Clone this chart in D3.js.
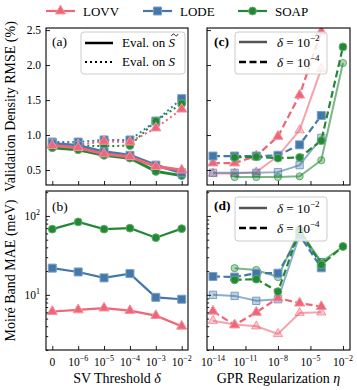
<!DOCTYPE html>
<html>
<head>
<meta charset="utf-8">
<script src="https://cdn.jsdelivr.net/npm/d3@7"></script>
<style>
  body { margin: 0; background: #fff; }
  svg { display: block; font-family: "Liberation Serif", "Times New Roman", serif; }
</style>
</head>
<body>
<svg id="chart" width="357" height="390"></svg>
<script>
// ---- data ----
const models = ["LOVV", "LODE", "SOAP"];
const svTickExp = [null, -6, -5, -4, -3, -2];   // SV threshold categories (null = 0)
const svIndex = [0, 1, 2, 3, 4, 5];

// (a) validation density RMSE (%)
const rmseTildeLOVV = [0.85, 0.82, 0.73, 0.69, 0.55, 0.50];
const rmseTildeLODE = [0.88, 0.85, 0.76, 0.71, 0.57, 0.46];
const rmseTildeSOAP = [0.82, 0.79, 0.71, 0.67, 0.48, 0.42];
const rmseFullLOVV = [0.87, 0.86, 0.91, 0.90, 1.10, 1.37];
const rmseFullLODE = [0.90, 0.90, 0.93, 0.93, 1.20, 1.52];
const rmseFullSOAP = [0.86, 0.85, 0.84, 0.85, 1.20, 1.45];

// (b) moire band MAE (meV)
const maeLOVV = [6.15, 6.45, 6.8, 6.3, 5.45, 4.0];
const maeLODE = [21.8, 19.5, 16.4, 18.6, 9.3, 8.8];
const maeSOAP = [68, 84, 68, 70, 53, 69];

// GPR regularization eta (log10)
const etaTickExp = [-14, -11, -8, -5, -2];
const etaLO = [-14, -12, -10, -8, -6, -4];
const etaSOAP = [-12, -10, -8, -6, -4, -2];

// (c) RMSE vs eta, delta = 1e-2 (light) and 1e-4 (dashed)
const etaRmseLOVV2 = [0.45, 0.45, 0.47, 0.70, 1.07, 1.95];
const etaRmseLOVV4 = [0.60, 0.60, 0.70, 0.98, 1.57, 2.48];
const etaRmseLODE2 = [0.46, 0.46, 0.46, 0.47, 0.57, 0.96];
const etaRmseLODE4 = [0.70, 0.70, 0.70, 0.71, 0.86, 1.28];
const etaRmseSOAP2 = [0.40, 0.40, 0.40, 0.41, 0.64, 2.03];
const etaRmseSOAP4 = [0.68, 0.69, 0.67, 0.68, 0.92, 2.26];

// (d) MAE vs eta
const etaMaeLOVV2 = [4.7, 4.2, 4.0, 3.2, 5.9, 6.0];
const etaMaeLOVV4 = [6.2, 4.15, 6.0, 9.1, 7.85, 7.1];
const etaMaeLODE2 = [10.0, 9.7, 8.4, 8.8, 57, 26];
const etaMaeLODE4 = [17.1, 16.8, 18.8, 18.8, 57, 22];
const etaMaeSOAP2 = [21.8, 20.7, 16.8, 66, 26, 41];
const etaMaeSOAP4 = [15.5, 15.8, 11.0, 66, 24, 41];

const colors = { LOVV: "#EE6677", LODE: "#4477AA", SOAP: "#228833" };
const symbols = { LOVV: d3.symbolTriangle, LODE: d3.symbolSquare, SOAP: d3.symbolCircle };
const symSize = { LOVV: 44, LODE: 64, SOAP: 48 };

// ---- layout ----
const svg = d3.select("#chart");
const L = { x0: 46, x1: 188 }, R = { x0: 207, x1: 350 };
const T = { y0: 28, y1: 185 }, B = { y0: 191, y1: 350 };

const xSV = d3.scaleLinear().domain([-0.243, 5.243]).range([L.x0, L.x1]);
const xEta = d3.scaleLinear().domain([-14.55, -1.35]).range([R.x0, R.x1]);
const yRmse = d3.scaleLinear().domain([0.286, 2.53]).range([T.y1, T.y0]);
const yMae = d3.scaleLog().domain([2.0, 207]).range([B.y1, B.y0]);

const minorLog = [2, 3, 4, 5, 6, 7, 8, 9, 20, 30, 40, 50, 60, 70, 80, 90, 200];

function makePanel(id, X, Y) {
  svg.append("clipPath").attr("id", id)
    .append("rect").attr("x", X.x0).attr("y", Y.y0)
    .attr("width", X.x1 - X.x0).attr("height", Y.y1 - Y.y0);
  return svg.append("g").attr("clip-path", `url(#${id})`);
}

function frame(X, Y) {
  svg.append("rect").attr("x", X.x0).attr("y", Y.y0)
    .attr("width", X.x1 - X.x0).attr("height", Y.y1 - Y.y0)
    .attr("fill", "none").attr("stroke", "#000").attr("stroke-width", 1.1);
}

function ticks(axis, y0, x0, size) {
  const g = svg.append("g")
    .attr("transform", `translate(${x0},${y0})`)
    .call(axis.tickSize(size).tickFormat(""));
  g.select(".domain").remove();
  g.selectAll("line").attr("stroke", "#000").attr("stroke-width", 0.9);
  return g;
}

function powLabel(x, y, anchor, exp, base) {
  const t = svg.append("text").attr("x", x).attr("y", y)
    .attr("text-anchor", anchor).attr("font-size", 11.5).attr("fill", "#000");
  if (exp === null) { t.text(base); return t; }
  t.append("tspan").text("10");
  t.append("tspan").attr("dy", -5).attr("font-size", 8).text(exp < 0 ? "\u2212" + (-exp) : exp);
  return t;
}

function series(g, xs, ys, x, y, o) {
  const pts = xs.map((v, i) => [x(v), y(ys[i])]);
  g.append("path").attr("d", d3.line()(pts))
    .attr("fill", "none").attr("stroke", o.color)
    .attr("stroke-width", o.lw).attr("stroke-opacity", o.alpha || 1)
    .attr("stroke-dasharray", o.dash || null)
    .attr("stroke-linecap", o.cap || "butt");
  const sym = d3.symbol(symbols[o.model], o.size || symSize[o.model]);
  g.selectAll(null).data(pts).join("path")
    .attr("transform", d => `translate(${d[0]},${d[1]})`)
    .attr("d", sym)
    .attr("fill", o.color).attr("fill-opacity", o.fillAlpha == null ? 1 : o.fillAlpha)
    .attr("stroke", o.edge || d3.interpolateRgb(o.color, "#fff")(0.3))
    .attr("stroke-opacity", o.edgeAlpha || 1)
    .attr("stroke-width", 1);
}

function legendBox(x, y, w, h) {
  svg.append("rect").attr("x", x).attr("y", y).attr("width", w).attr("height", h)
    .attr("rx", 3).attr("fill", "#fff").attr("fill-opacity", 0.8)
    .attr("stroke", "#ccc").attr("stroke-width", 1);
}

function deltaEntry(x, y, exp, dash, color, lw) {
  svg.append("line").attr("x1", x).attr("x2", x + 28).attr("y1", y).attr("y2", y)
    .attr("stroke", color).attr("stroke-width", lw).attr("stroke-dasharray", dash);
  const t = svg.append("text").attr("x", x + 38).attr("y", y + 4.5).attr("font-size", 13);
  t.append("tspan").attr("font-style", "italic").text("\u03b4");
  t.append("tspan").text(" = 10");
  t.append("tspan").attr("dy", -6).attr("font-size", 9).text("\u2212" + exp);
}

// ---- panel (a) ----
const ga = makePanel("clipA", L, T);
const rmseFull = { LOVV: rmseFullLOVV, LODE: rmseFullLODE, SOAP: rmseFullSOAP };
const rmseTilde = { LOVV: rmseTildeLOVV, LODE: rmseTildeLODE, SOAP: rmseTildeSOAP };
["LODE", "SOAP", "LOVV"].forEach(m => series(ga, svIndex, rmseFull[m], xSV, yRmse,
  { model: m, color: colors[m], lw: 2, dash: "2,3" }));
["SOAP", "LODE", "LOVV"].forEach(m => series(ga, svIndex, rmseTilde[m], xSV, yRmse,
  { model: m, color: colors[m], lw: 3 }));
frame(L, T);
ticks(d3.axisBottom(xSV).tickValues(svIndex), T.y1, 0, -4);
ticks(d3.axisLeft(yRmse).tickValues([0.5, 1, 1.5, 2, 2.5]), 0, L.x0, -4);
[0.5, 1, 1.5, 2, 2.5].forEach(v => svg.append("text").attr("x", 41).attr("y", yRmse(v) + 4)
  .attr("text-anchor", "end").attr("font-size", 11.5).text(v.toFixed(1)));

legendBox(81, 32, 104, 42);
svg.append("line").attr("x1", 85).attr("x2", 113).attr("y1", 43).attr("y2", 43)
  .attr("stroke", "#000").attr("stroke-width", 2.5);
svg.append("line").attr("x1", 85).attr("x2", 113).attr("y1", 62).attr("y2", 62)
  .attr("stroke", "#000").attr("stroke-width", 2).attr("stroke-dasharray", "2,3");
let ta = svg.append("text").attr("x", 122).attr("y", 47).attr("font-size", 13);
ta.append("tspan").text("Eval. on ");
ta.append("tspan").attr("font-style", "italic").text("S");
// tilde accent over the S, drawn as a small stroke
svg.append("path").attr("d", "M171.5,36 C172.5,33.6 174,33.6 175,35 S177,36.4 178,34")
  .attr("fill", "none").attr("stroke", "#000").attr("stroke-width", 0.9);
ta = svg.append("text").attr("x", 122).attr("y", 66).attr("font-size", 13);
ta.append("tspan").text("Eval. on ");
ta.append("tspan").attr("font-style", "italic").text("S");
svg.append("text").attr("x", 52).attr("y", 46).attr("font-size", 13.5).text("(a)");

// ---- panel (b) ----
const gb = makePanel("clipB", L, B);
const mae = { LOVV: maeLOVV, LODE: maeLODE, SOAP: maeSOAP };
models.forEach(m => series(gb, svIndex, mae[m], xSV, yMae,
  { model: m, color: colors[m], lw: 2.2 }));
frame(L, B);
ticks(d3.axisBottom(xSV).tickValues(svIndex), B.y1, 0, -4);
ticks(d3.axisLeft(yMae).tickValues([10, 100]), 0, L.x0, -4);
ticks(d3.axisLeft(yMae).tickValues(minorLog), 0, L.x0, -2.2);
[1, 2].forEach(e => powLabel(40, yMae(Math.pow(10, e)) + 4, "end", e, null));
svIndex.forEach((i, k) => powLabel(xSV(i), 366, "middle", svTickExp[k], "0"));
svg.append("text").attr("x", 52).attr("y", 211).attr("font-size", 13.5).text("(b)");

// ---- panel (c) ----
const gc = makePanel("clipC", R, T);
const rmseEta2 = { LOVV: etaRmseLOVV2, LODE: etaRmseLODE2, SOAP: etaRmseSOAP2 };
const rmseEta4 = { LOVV: etaRmseLOVV4, LODE: etaRmseLODE4, SOAP: etaRmseSOAP4 };
const etaOf = m => (m === "SOAP" ? etaSOAP : etaLO);
function lightOpts(m) {
  return { model: m, color: colors[m], lw: 2, alpha: 0.6, fillAlpha: 0.35,
    edge: colors[m], edgeAlpha: 0.6, size: symSize[m] * 0.85 };
}
function darkOpts(m) {
  return { model: m, color: colors[m], lw: 2.2, dash: "7,3.5" };
}
models.forEach(m => series(gc, etaOf(m), rmseEta2[m], xEta, yRmse, lightOpts(m)));
models.forEach(m => series(gc, etaOf(m), rmseEta4[m], xEta, yRmse, darkOpts(m)));
frame(R, T);
ticks(d3.axisBottom(xEta).tickValues(etaTickExp), T.y1, 0, -4);
ticks(d3.axisLeft(yRmse).tickValues([0.5, 1, 1.5, 2, 2.5]), 0, R.x0, -4);
legendBox(235, 32, 92, 42);
deltaEntry(239, 42, 2, null, "#555", 2.5);
deltaEntry(239, 62, 4, "7,3.5", "#000", 2.5);
svg.append("text").attr("x", 214).attr("y", 46).attr("font-size", 13.5)
  .attr("font-weight", "bold").text("(c)");

// ---- panel (d) ----
const gd = makePanel("clipD", R, B);
const maeEta2 = { LOVV: etaMaeLOVV2, LODE: etaMaeLODE2, SOAP: etaMaeSOAP2 };
const maeEta4 = { LOVV: etaMaeLOVV4, LODE: etaMaeLODE4, SOAP: etaMaeSOAP4 };
models.forEach(m => series(gd, etaOf(m), maeEta2[m], xEta, yMae, lightOpts(m)));
models.forEach(m => series(gd, etaOf(m), maeEta4[m], xEta, yMae, darkOpts(m)));
frame(R, B);
ticks(d3.axisBottom(xEta).tickValues(etaTickExp), B.y1, 0, -4);
ticks(d3.axisLeft(yMae).tickValues([10, 100]), 0, R.x0, -4);
ticks(d3.axisLeft(yMae).tickValues(minorLog), 0, R.x0, -2.2);
etaTickExp.forEach(e => powLabel(xEta(e), 366, "middle", e, null));
legendBox(235, 197, 92, 44);
deltaEntry(239, 208, 2, null, "#555", 2.5);
deltaEntry(239, 228, 4, "7,3.5", "#000", 2.5);
svg.append("text").attr("x", 214).attr("y", 210).attr("font-size", 13.5)
  .attr("font-weight", "bold").text("(d)");

// ---- axis titles ----
svg.append("text").attr("transform", `translate(15,${(T.y0 + T.y1) / 2}) rotate(-90)`)
  .attr("text-anchor", "middle").attr("font-size", 14).text("Validation Density RMSE (%)");
svg.append("text").attr("transform", `translate(15,${(B.y0 + B.y1) / 2}) rotate(-90)`)
  .attr("text-anchor", "middle").attr("font-size", 14).text("Moir\u00e9 Band MAE (meV)");
let tx = svg.append("text").attr("x", (L.x0 + L.x1) / 2).attr("y", 383)
  .attr("text-anchor", "middle").attr("font-size", 14);
tx.append("tspan").text("SV Threshold ");
tx.append("tspan").attr("font-style", "italic").text("\u03b4");
tx = svg.append("text").attr("x", (R.x0 + R.x1) / 2).attr("y", 383)
  .attr("text-anchor", "middle").attr("font-size", 14);
tx.append("tspan").text("GPR Regularization ");
tx.append("tspan").attr("font-style", "italic").text("\u03b7");

// ---- top legend ----
const legX = { LOVV: 46, LODE: 143, SOAP: 238 };
models.forEach(m => {
  const x = legX[m];
  svg.append("line").attr("x1", x).attr("x2", x + 29).attr("y1", 11).attr("y2", 11)
    .attr("stroke", colors[m]).attr("stroke-width", 2.2);
  svg.append("path").attr("transform", `translate(${x + 14.5},11)`)
    .attr("d", d3.symbol(symbols[m], symSize[m])())
    .attr("fill", colors[m]).attr("stroke", d3.interpolateRgb(colors[m], "#fff")(0.3));
  svg.append("text").attr("x", x + 37).attr("y", 15.5).attr("font-size", 13).text(m);
});
</script>
</body>
</html>
